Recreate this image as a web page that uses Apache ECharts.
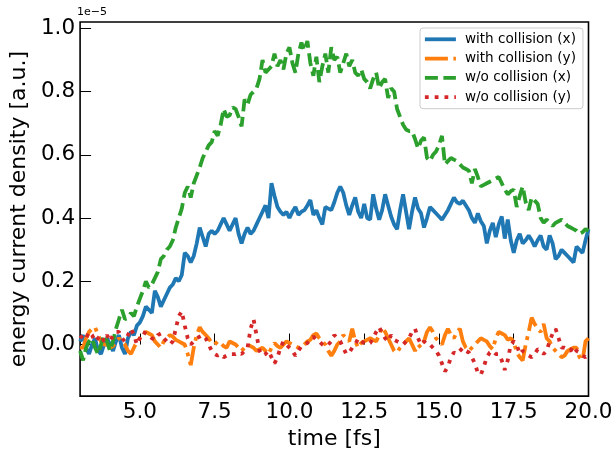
<!DOCTYPE html>
<html>
<head>
<meta charset="utf-8">
<script src="https://cdn.jsdelivr.net/npm/echarts@6/dist/echarts.min.js"></script>
<style>
html,body{margin:0;padding:0;background:#fff;}
#chart{width:616px;height:455px;}
</style>
</head>
<body>
<div id="chart"></div>
<script>
const time = [3.0,3.1,3.2,3.3,3.4,3.5,3.6,3.7,3.8,3.9,
4.0,4.1,4.2,4.3,4.4,4.5,4.6,4.7,4.8,4.9,
5.0,5.1,5.2,5.3,5.4,5.5,5.6,5.7,5.8,5.9,
6.0,6.1,6.2,6.3,6.4,6.5,6.6,6.7,6.8,6.9,
7.0,7.1,7.2,7.3,7.4,7.5,7.6,7.7,7.8,7.9,
8.0,8.1,8.2,8.3,8.4,8.5,8.6,8.7,8.8,8.9,
9.0,9.1,9.2,9.3,9.4,9.5,9.6,9.7,9.8,9.9,
10.0,10.1,10.2,10.3,10.4,10.5,10.6,10.7,10.8,10.9,
11.0,11.1,11.2,11.3,11.4,11.5,11.6,11.7,11.8,11.9,
12.0,12.1,12.2,12.3,12.4,12.5,12.6,12.7,12.8,12.9,
13.0,13.1,13.2,13.3,13.4,13.5,13.6,13.7,13.8,13.9,
14.0,14.1,14.2,14.3,14.4,14.5,14.6,14.7,14.8,14.9,
15.0,15.1,15.2,15.3,15.4,15.5,15.6,15.7,15.8,15.9,
16.0,16.1,16.2,16.3,16.4,16.5,16.6,16.7,16.8,16.9,
17.0,17.1,17.2,17.3,17.4,17.5,17.6,17.7,17.8,17.9,
18.0,18.1,18.2,18.3,18.4,18.5,18.6,18.7,18.8,18.9,
19.0,19.1,19.2,19.3,19.4,19.5,19.6,19.7,19.8,19.9,
20.0];

// values in units of 1e-5 a.u.
const withCollisionX = [0.01,0.03,-0.01,-0.03,0.0,0.02,-0.02,-0.03,0.0,0.02,
0.0,-0.02,0.01,0.03,-0.01,-0.03,0.02,0.04,0.03,0.06,
0.07,0.09,0.12,0.11,0.10,0.17,0.15,0.12,0.14,0.16,
0.18,0.19,0.21,0.20,0.22,0.29,0.28,0.26,0.28,0.32,
0.37,0.34,0.31,0.35,0.36,0.35,0.36,0.38,0.40,0.38,
0.36,0.38,0.40,0.35,0.32,0.35,0.37,0.35,0.36,0.38,
0.40,0.42,0.44,0.40,0.51,0.47,0.435,0.42,0.41,0.42,
0.40,0.42,0.435,0.41,0.42,0.425,0.44,0.457,0.41,0.425,
0.40,0.38,0.435,0.43,0.425,0.45,0.48,0.50,0.48,0.44,
0.41,0.44,0.465,0.42,0.40,0.445,0.40,0.395,0.475,0.43,
0.395,0.425,0.475,0.44,0.405,0.38,0.365,0.425,0.475,0.42,
0.365,0.42,0.465,0.43,0.415,0.37,0.40,0.435,0.425,0.415,
0.405,0.395,0.41,0.425,0.445,0.465,0.45,0.445,0.455,0.44,
0.425,0.40,0.385,0.415,0.39,0.375,0.32,0.36,0.385,0.34,
0.38,0.405,0.335,0.395,0.33,0.29,0.33,0.35,0.32,0.33,
0.345,0.33,0.31,0.33,0.345,0.31,0.30,0.345,0.32,0.27,
0.28,0.30,0.29,0.28,0.27,0.26,0.31,0.30,0.29,0.33,
0.365];

const withCollisionY = [-0.01,-0.01,0.02,0.04,0.05,0.055,0.03,0.01,0.0,0.0,
-0.01,-0.005,0.01,0.02,0.01,0.0,-0.02,-0.03,-0.01,0.01,
0.02,0.03,0.04,0.035,0.03,0.01,0.0,-0.01,0.01,0.02,
0.03,0.025,0.015,0.01,0.005,0.0,-0.03,-0.065,-0.01,0.03,
0.055,0.04,0.03,0.02,0.005,0.0,0.01,0.005,-0.005,-0.01,
0.01,0.005,0.0,-0.01,-0.02,-0.01,0.0,-0.005,-0.01,-0.02,
-0.015,-0.01,-0.02,-0.03,-0.01,0.005,-0.005,-0.01,0.0,0.01,
0.005,0.0,-0.005,-0.01,-0.01,0.0,0.01,0.015,0.03,0.035,
0.02,0.01,0.0,-0.02,-0.035,-0.02,0.0,0.01,0.03,0.02,
0.01,0.05,0.01,-0.01,0.005,0.01,0.015,0.02,0.015,0.01,
0.03,0.055,0.04,0.02,0.0,-0.02,-0.025,-0.01,0.0,0.01,
0.02,0.0,-0.02,0.0,-0.01,0.01,0.04,0.055,0.04,0.02,
0.01,0.0,0.03,0.05,0.03,0.02,0.04,0.05,0.01,-0.01,
-0.02,-0.01,0.0,0.01,0.02,0.015,0.01,-0.005,-0.015,0.02,
0.04,0.035,0.03,0.015,0.02,0.01,-0.025,-0.04,-0.05,0.0,
0.04,0.085,0.065,0.05,0.04,0.065,0.02,0.01,-0.01,-0.02,
-0.03,-0.04,-0.035,-0.02,-0.015,-0.01,-0.01,-0.04,-0.05,0.01,
0.02];

const withoutCollisionX = [-0.02,-0.05,-0.01,0.01,0.02,-0.01,-0.03,0.0,0.03,0.01,
-0.02,0.01,0.05,0.08,0.11,0.08,0.085,0.10,0.09,0.12,
0.145,0.17,0.20,0.18,0.19,0.21,0.23,0.27,0.28,0.30,
0.31,0.33,0.37,0.40,0.43,0.48,0.50,0.465,0.51,0.535,
0.56,0.59,0.61,0.63,0.64,0.675,0.66,0.695,0.745,0.72,
0.725,0.75,0.745,0.72,0.69,0.775,0.76,0.79,0.80,0.81,
0.84,0.90,0.86,0.87,0.88,0.92,0.88,0.90,0.87,0.92,
0.94,0.89,0.86,0.92,0.955,0.93,0.96,0.89,0.85,0.91,
0.83,0.88,0.92,0.86,0.94,0.90,0.91,0.86,0.89,0.92,
0.88,0.90,0.86,0.85,0.87,0.84,0.83,0.81,0.84,0.86,
0.81,0.83,0.84,0.78,0.81,0.80,0.745,0.72,0.695,0.68,
0.675,0.675,0.65,0.62,0.645,0.655,0.59,0.58,0.60,0.61,
0.63,0.66,0.57,0.58,0.59,0.585,0.58,0.57,0.56,0.555,
0.55,0.51,0.555,0.53,0.50,0.505,0.51,0.515,0.52,0.525,
0.53,0.51,0.49,0.475,0.485,0.49,0.435,0.47,0.50,0.45,
0.425,0.465,0.455,0.445,0.40,0.385,0.395,0.385,0.375,0.385,
0.39,0.395,0.385,0.375,0.37,0.365,0.36,0.35,0.355,0.365,
0.36];

const withoutCollisionY = [0.02,0.03,0.02,0.04,0.03,0.01,0.02,0.03,0.01,0.03,
0.01,0.03,0.04,0.04,0.02,0.01,0.03,0.05,0.03,0.0,
0.02,0.04,0.035,0.03,0.02,0.015,0.03,0.035,0.02,0.01,
0.0,0.01,0.05,0.09,0.105,0.06,0.02,0.0,0.01,0.02,
0.025,0.03,0.02,0.0,-0.02,-0.03,-0.035,-0.03,-0.04,-0.035,
-0.03,-0.03,-0.03,-0.025,-0.03,-0.02,-0.01,0.05,0.08,0.03,
-0.02,-0.035,-0.03,-0.02,-0.04,-0.06,-0.04,-0.01,0.01,0.0,
-0.01,-0.02,-0.035,-0.02,-0.005,0.0,0.005,0.015,0.025,0.015,
0.01,0.0,-0.005,0.0,0.01,0.03,0.02,0.01,-0.01,-0.03,
-0.025,-0.01,0.0,0.02,0.01,0.005,0.0,0.005,0.02,0.04,
0.055,0.035,0.02,0.01,0.03,0.015,0.01,0.005,0.0,0.01,
0.02,0.04,0.05,0.02,0.0,0.01,0.0,0.0,-0.01,-0.02,
-0.035,-0.06,-0.085,-0.07,-0.04,-0.025,-0.03,-0.02,-0.01,-0.02,
-0.025,-0.04,-0.06,-0.09,-0.095,-0.07,-0.04,-0.025,-0.02,-0.03,
-0.03,-0.05,-0.08,-0.05,0.0,0.01,0.0,-0.03,-0.02,-0.025,
-0.035,-0.04,-0.03,-0.015,-0.02,-0.03,-0.02,0.01,0.035,0.05,
0.02,-0.01,-0.01,-0.015,-0.02,-0.005,-0.02,-0.025,-0.035,-0.04,
-0.03];

const seriesNames = ['with collision (x)','with collision (y)','w/o collision (x)','w/o collision (y)'];
const xTicks = [5.0,7.5,10.0,12.5,15.0,17.5,20.0];
const yTicks = [0.0,0.2,0.4,0.6,0.8,1.0];

const FONT = 'DejaVu Sans';
const pair = arr => time.map((t,i)=>[t, arr[i]]);
const LW = 3.8;
const chart = echarts.init(document.getElementById('chart'), null, {renderer:'canvas'});
chart.setOption({
  animation:false,
  backgroundColor:'#fff',
  textStyle:{fontFamily:FONT},
  grid:{left:77,right:27.5,top:22,bottom:52.3,show:true,borderColor:'#000',borderWidth:1.6,backgroundColor:'transparent'},
  xAxis:{type:'value',min:3,max:20,
    name:'time [fs]',nameLocation:'middle',nameGap:29,
    nameTextStyle:{fontFamily:FONT,fontSize:22,color:'#000'},
    axisLine:{show:false},
    splitLine:{show:false},
    axisTick:{show:true,inside:true,length:11,customValues:xTicks,lineStyle:{color:'#000',width:1}},
    axisLabel:{customValues:xTicks,margin:5,fontFamily:FONT,fontSize:21.5,color:'#000',formatter:v=>v.toFixed(1)}
  },
  yAxis:{type:'value',min:-0.163,max:1.02,
    name:'energy current density [a.u.]',nameLocation:'middle',nameGap:45,
    nameTextStyle:{fontFamily:FONT,fontSize:22,color:'#000'},
    axisLine:{show:false},
    splitLine:{show:false},
    axisTick:{show:true,inside:true,length:11,customValues:yTicks,lineStyle:{color:'#000',width:1}},
    axisLabel:{customValues:yTicks,margin:5,fontFamily:FONT,fontSize:21.5,color:'#000',formatter:v=>v.toFixed(1)}
  },
  legend:{
    orient:'vertical',left:420,top:28,
    padding:[4.3,7,4.5,3],itemGap:5.3,itemWidth:31,itemHeight:14,
    backgroundColor:'rgba(255,255,255,0.8)',borderColor:'#cccccc',borderWidth:1,borderRadius:3,
    itemStyle:{opacity:0},
    lineStyle:{width:LW},
    textStyle:{fontFamily:FONT,fontSize:13.6,color:'#000',padding:[0,0,0,4]},
    data:seriesNames
  },
  graphic:[{type:'text',left:77,top:7,style:{text:'1e\u22125',font:'11px "DejaVu Sans"',fill:'#000'}}],
  series:[
    {name:seriesNames[0],type:'line',symbol:'none',data:pair(withCollisionX),
     lineStyle:{color:'#1f77b4',width:LW,type:'solid'},itemStyle:{color:'#1f77b4'},z:2},
    {name:seriesNames[1],type:'line',symbol:'none',data:pair(withCollisionY),
     lineStyle:{color:'#ff7f0e',width:LW,type:[23,5.5,3.8,5.5]},itemStyle:{color:'#ff7f0e'},z:3},
    {name:seriesNames[2],type:'line',symbol:'none',data:pair(withoutCollisionX),
     lineStyle:{color:'#2ca02c',width:LW,type:[13,5.5]},itemStyle:{color:'#2ca02c'},z:4},
    {name:seriesNames[3],type:'line',symbol:'none',data:pair(withoutCollisionY),
     lineStyle:{color:'#d62728',width:LW,type:[3.8,6]},itemStyle:{color:'#d62728'},z:5}
  ]
});
</script>
</body>
</html>
